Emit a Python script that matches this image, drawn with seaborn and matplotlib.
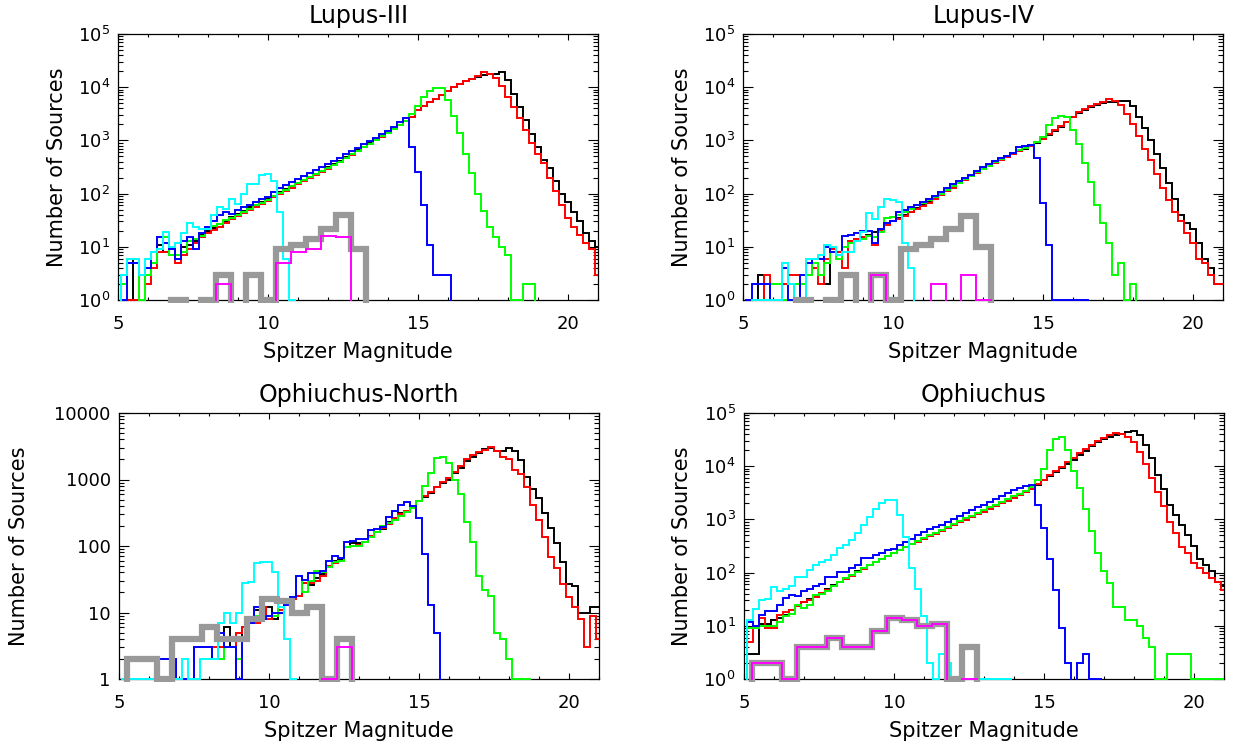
import numpy as np
import matplotlib
matplotlib.use("Agg")
import matplotlib.pyplot as plt
import seaborn as sns
from matplotlib.patches import Rectangle
from matplotlib.ticker import FixedLocator, MultipleLocator, LogLocator, FuncFormatter, NullFormatter

# bin centres (0.2 mag for the data histograms, 0.5 mag for the model histograms)
mag = np.round(5.0 + 0.2 * np.arange(81), 1)
mag_model = 5.0 + 0.5 * np.arange(33)

# ---------------- Lupus-III ----------------
lup3_black = [0, 1, 1, 6, 3, 4, 5, 11, 8, 7,
              7, 10, 11, 13, 17, 20, 23, 27, 31, 36,
              42, 48, 55, 62, 70, 80, 92, 105, 120, 140,
              160, 180, 205, 235, 270, 315, 360, 415, 480, 560,
              650, 760, 880, 1020, 1200, 1400, 1650, 1950, 2300, 2800,
              3800, 4500, 5200, 6000, 7000, 8500, 10000, 11500, 13000, 14500,
              15500, 17000, 17500, 18000, 19000, 13500, 7500, 4200, 2400, 1300,
              750, 420, 300, 170, 100, 70, 45, 30, 18, 13,
              10]
lup3_red = [0, 1, 1, 1, 3, 2, 4, 8, 8, 9,
            5, 7, 9, 12, 15, 18, 21, 24, 28, 33,
            38, 44, 50, 57, 65, 74, 85, 98, 112, 130,
            150, 170, 195, 222, 255, 295, 340, 395, 460, 540,
            630, 740, 860, 1000, 1180, 1380, 1630, 1930, 2300, 2800,
            3800, 4500, 5300, 6100, 7100, 8600, 10000, 11500, 13000, 14500,
            16000, 19500, 18000, 15000, 10500, 6600, 4200, 2600, 1600, 900,
            550, 380, 200, 110, 60, 35, 24, 17, 12, 9,
            3]
lup3_green = [0, 2, 6, 6, 1, 3, 5, 9, 15, 7,
              7, 8, 13, 14, 16, 22, 25, 27, 32, 35,
              40, 46, 52, 60, 68, 77, 90, 103, 118, 137,
              158, 178, 203, 232, 265, 305, 350, 400, 470, 550,
              640, 750, 870, 1010, 1190, 1400, 1650, 1950, 2350, 3100,
              4400, 6600, 8500, 9500, 9500, 5750, 2900, 1350, 555, 240,
              97, 47, 24, 15, 10, 7, 1, 1, 2, 2,
              0, 0, 0, 0, 0, 0, 0, 0, 0, 0,
              0]
lup3_blue = [0, 1, 5, 5, 3, 4, 8, 15, 12, 9,
             6, 13, 15, 9, 18, 24, 30, 40, 45, 42,
             50, 55, 62, 70, 78, 85, 105, 125, 145, 165,
             185, 210, 240, 275, 315, 360, 410, 470, 545, 630,
             730, 850, 980, 1130, 1300, 1500, 1800, 2200, 2600, 740,
             257, 61, 11, 3, 3, 3, 0, 0, 0, 0,
             0, 0, 0, 0, 0, 0, 0, 0, 0, 0,
             0, 0, 0, 0, 0, 0, 0, 0, 0, 0,
             0]
lup3_cyan = [0, 3, 6, 6, 3, 6, 8, 9, 19, 10,
             12, 18, 28, 24, 22, 22, 40, 57, 52, 78,
             63, 100, 150, 150, 225, 230, 170, 45, 6, 1,
             0, 0, 0, 0, 0, 0, 0, 0, 0, 0,
             0, 0, 0, 0, 0, 0, 0, 0, 0, 0,
             0, 0, 0, 0, 0, 0, 0, 0, 0, 0,
             0, 0, 0, 0, 0, 0, 0, 0, 0, 0,
             0, 0, 0, 0, 0, 0, 0, 0, 0, 0,
             0]
lup3_gray = [0, 0, 0, 0, 1, 0, 1, 3, 0, 3, 1, 9, 11, 14, 22, 40, 9,
             0, 0, 0, 0, 0, 0, 0, 0, 0, 0, 0, 0, 0, 0, 0, 0]
lup3_magenta = [0, 0, 0, 0, 0, 0, 0, 2, 0, 0, 0, 5, 8, 9, 16, 15, 0,
                0, 0, 0, 0, 0, 0, 0, 0, 0, 0, 0, 0, 0, 0, 0, 0]

# ---------------- Lupus-IV ----------------
lup4_black = [0, 1, 1, 3, 1, 1, 1, 4, 2, 1,
              2, 5, 6, 6, 2, 9, 8, 10, 13, 14,
              15, 17, 19, 22, 26, 30, 35, 40, 46, 53,
              60, 70, 82, 96, 112, 135, 160, 185, 215, 250,
              290, 330, 380, 430, 490, 560, 630, 700, 790, 900,
              1050, 1250, 1500, 1800, 2200, 2700, 3300, 3800, 4200, 4700,
              5000, 5200, 5300, 5400, 5600, 4500, 2800, 1700, 1000, 560,
              300, 160, 80, 40, 28, 22, 12, 6, 4, 2,
              2]
lup4_red = [0, 1, 1, 1, 3, 1, 1, 2, 3, 3,
            1, 3, 4, 2, 6, 9, 8, 4, 13, 14,
            15, 16, 11, 20, 26, 30, 34, 38, 45, 52,
            58, 67, 80, 94, 110, 130, 155, 180, 210, 245,
            285, 325, 375, 425, 485, 555, 630, 710, 800, 930,
            1080, 1300, 1550, 1850, 2250, 2800, 3400, 3900, 4400, 4900,
            5300, 6000, 5600, 4600, 3200, 2000, 1200, 700, 420, 230,
            130, 75, 45, 30, 18, 12, 6, 5, 3, 2,
            2]
lup4_green = [0, 0, 0, 1, 1, 2, 2, 1, 1, 2,
              2, 3, 5, 3, 5, 8, 6, 10, 12, 13,
              14, 16, 15, 19, 35, 36, 40, 45, 52, 60,
              66, 75, 86, 100, 116, 136, 160, 186, 216, 252,
              292, 335, 385, 440, 500, 570, 650, 730, 820, 950,
              1150, 1950, 2600, 2900, 2700, 1580, 850, 380, 167, 61,
              28, 12, 3, 5, 1, 2, 0, 0, 0, 0,
              0, 0, 0, 0, 0, 0, 0, 0, 0, 0,
              0]
lup4_blue = [0, 1, 2, 2, 2, 1, 1, 4, 1, 1,
             3, 5, 6, 6, 10, 8, 7, 16, 17, 18,
             20, 20, 12, 22, 28, 30, 45, 50, 55, 62,
             70, 80, 92, 108, 125, 150, 172, 198, 228, 265,
             310, 355, 405, 460, 520, 590, 760, 800, 830, 460,
             68, 11, 1, 1, 1, 1, 1, 1, 0, 0,
             0, 0, 0, 0, 0, 0, 0, 0, 0, 0,
             0, 0, 0, 0, 0, 0, 0, 0, 0, 0,
             0]
lup4_cyan = [0, 0, 1, 1, 1, 1, 1, 5, 2, 1,
             1, 6, 6, 7, 11, 10, 7, 8, 8, 13,
             19, 44, 33, 55, 78, 75, 70, 12, 4, 0,
             0, 0, 0, 0, 0, 0, 0, 0, 0, 0,
             0, 0, 0, 0, 0, 0, 0, 0, 0, 0,
             0, 0, 0, 0, 0, 0, 0, 0, 0, 0,
             0, 0, 0, 0, 0, 0, 0, 0, 0, 0,
             0, 0, 0, 0, 0, 0, 0, 0, 0, 0,
             0]
lup4_gray = [0, 0, 0, 0, 1, 0, 1, 3, 0, 3, 1, 9, 11, 14, 22, 38, 10,
             0, 0, 0, 0, 0, 0, 0, 0, 0, 0, 0, 0, 0, 0, 0, 0]
lup4_magenta = [0, 0, 0, 0, 0, 0, 0, 0, 0, 3, 0, 0, 0, 2, 0, 3, 1,
                0, 0, 0, 0, 0, 0, 0, 0, 0, 0, 0, 0, 0, 0, 0, 0]

# ---------------- Ophiuchus-North ----------------
on_black = [0, 1, 1, 1, 1, 1, 1, 2, 2, 2,
            1, 1, 1, 3, 3, 3, 2, 4, 6, 3,
            1, 6, 7, 11, 8, 12, 8, 10, 14, 17,
            18, 28, 26, 33, 38, 50, 60, 62, 95, 110,
            110, 115, 140, 165, 180, 230, 260, 310, 330, 400,
            470, 550, 620, 760, 900, 1000, 1250, 1500, 1900, 2200,
            2500, 2900, 3000, 2700, 2700, 3000, 2700, 1950, 1100, 730,
            520, 310, 185, 110, 58, 27, 25, 10, 10, 12,
            12]
on_red = [0, 1, 1, 1, 1, 1, 1, 1, 1, 1,
          1, 1, 1, 3, 3, 3, 3, 3, 3, 3,
          5, 6, 7, 7, 12, 8, 9, 11, 14, 16,
          18, 28, 28, 30, 36, 50, 55, 60, 95, 100,
          105, 115, 140, 160, 185, 215, 260, 300, 340, 400,
          480, 560, 650, 780, 920, 1050, 1300, 1600, 2000, 2300,
          2600, 2800, 3100, 2700, 2200, 2000, 1400, 1200, 780, 410,
          245, 138, 69, 46, 27, 17, 12, 8, 3, 9,
          4]
on_green = [0, 0, 0, 0, 0, 0, 0, 0, 0, 0,
            0, 0, 0, 1, 2, 2, 2, 2, 3, 3,
            2, 4, 8, 9, 9, 9, 9, 12, 16, 17,
            35, 20, 30, 42, 40, 48, 58, 60, 95, 100,
            100, 115, 135, 160, 200, 220, 250, 280, 330, 370,
            480, 800, 1270, 2100, 2200, 1750, 1000, 600, 230, 116,
            35, 22, 18, 5, 4, 2, 1, 1, 1, 0,
            0, 0, 0, 0, 0, 0, 0, 0, 0, 0,
            0]
on_blue = [0, 1, 1, 1, 1, 1, 1, 2, 2, 2,
           1, 1, 1, 3, 3, 3, 2, 5, 3, 3,
           1, 4, 7, 12, 8, 9, 10, 10, 13, 17,
           35, 31, 39, 39, 42, 60, 71, 65, 116, 120,
           126, 126, 174, 180, 190, 275, 335, 415, 455, 400,
           260, 75, 13, 5, 0, 0, 0, 0, 0, 0,
           0, 0, 0, 0, 0, 0, 0, 0, 0, 0,
           0, 0, 0, 0, 0, 0, 0, 0, 0, 0,
           0]
on_cyan = [0, 1, 1, 1, 1, 1, 1, 0, 0, 0,
           1, 2, 1, 1, 2, 2, 2, 7, 10, 7,
           10, 28, 29, 55, 58, 58, 40, 12, 4, 1,
           0, 0, 0, 0, 0, 0, 0, 0, 0, 0,
           0, 0, 0, 0, 0, 0, 0, 0, 0, 0,
           0, 0, 0, 0, 0, 0, 0, 0, 0, 0,
           0, 0, 0, 0, 0, 0, 0, 0, 0, 0,
           0, 0, 0, 0, 0, 0, 0, 0, 0, 0,
           0]
on_gray = [0, 2, 2, 1, 4, 4, 6, 4, 4, 8, 16, 15, 10, 12, 1, 4, 0,
           0, 0, 0, 0, 0, 0, 0, 0, 0, 0, 0, 0, 0, 0, 0, 0]
on_magenta = [0, 0, 0, 0, 0, 0, 0, 0, 0, 0, 0, 0, 0, 0, 1, 3, 0,
              0, 0, 0, 0, 0, 0, 0, 0, 0, 0, 0, 0, 0, 0, 0, 0]

# ---------------- Ophiuchus ----------------
oph_black = [0, 3, 3, 11, 11, 13, 14, 16, 20, 24,
             28, 32, 36, 42, 50, 58, 68, 78, 90, 105,
             120, 140, 160, 180, 205, 235, 265, 300, 340, 385,
             430, 480, 540, 610, 690, 780, 880, 990, 1110, 1250,
             1400, 1580, 1780, 2000, 2250, 2550, 2900, 3300, 3800, 4500,
             5400, 6500, 7800, 9300, 11000, 13000, 16000, 19500, 23500, 28000,
             32000, 36000, 39000, 41000, 43000, 45000, 38000, 25000, 14000, 6800,
             3800, 1900, 1200, 800, 500, 310, 180, 140, 105, 68,
             55]
oph_red = [0, 5, 10, 14, 9, 9, 16, 18, 20, 24,
           28, 31, 35, 41, 48, 56, 66, 76, 88, 102,
           118, 137, 157, 178, 202, 230, 262, 298, 338, 383,
           430, 480, 540, 610, 690, 780, 880, 990, 1110, 1250,
           1400, 1580, 1780, 2000, 2250, 2550, 2900, 3300, 3800, 4600,
           5600, 6800, 8200, 9800, 11800, 14000, 17500, 21000, 25000, 29500,
           34000, 38000, 42000, 40000, 36000, 28000, 18600, 11200, 6000, 3300,
           1800, 900, 550, 300, 230, 150, 120, 100, 80, 68,
           47]
oph_green = [0, 9, 9, 10, 10, 10, 12, 15, 17, 25,
             22, 25, 38, 40, 45, 55, 68, 78, 90, 104,
             120, 140, 160, 182, 205, 235, 270, 305, 345, 390,
             440, 500, 560, 640, 720, 820, 930, 1050, 1180, 1330,
             1500, 1700, 1900, 2150, 2400, 2700, 3050, 3450, 4000, 5500,
             9000, 20000, 33000, 35000, 20000, 8000, 3900, 1600, 610, 233,
             105, 64, 23, 23, 13, 13, 10, 6, 4, 1,
             1, 3, 3, 3, 3, 1, 1, 1, 1, 1,
             1]
oph_blue = [0, 12, 10, 16, 19, 19, 25, 33, 38, 36,
            45, 49, 55, 60, 84, 84, 104, 104, 120, 138,
            190, 190, 215, 230, 265, 280, 330, 380, 420, 500,
            590, 650, 720, 800, 900, 1000, 1150, 1300, 1480, 1700,
            1900, 2150, 2450, 2750, 3100, 3500, 3900, 4200, 4400, 1840,
            690, 182, 48, 9, 2, 0, 2, 3, 1, 1,
            0, 0, 0, 0, 0, 0, 0, 0, 0, 0,
            0, 0, 0, 0, 0, 0, 0, 0, 0, 0,
            0]
oph_cyan = [0, 13, 21, 30, 32, 53, 45, 50, 55, 84,
            84, 112, 140, 160, 173, 215, 286, 330, 410, 550,
            780, 1120, 1600, 2000, 2300, 2300, 1200, 475, 124, 50,
            15, 2, 1, 3, 2, 1, 1, 1, 1, 1,
            1, 1, 1, 1, 1, 0, 0, 0, 0, 0,
            0, 0, 0, 0, 0, 0, 0, 0, 0, 0,
            0, 0, 0, 0, 0, 0, 0, 0, 0, 0,
            0, 0, 0, 0, 0, 0, 0, 0, 0, 0,
            0]
oph_gray = [0, 2, 2, 1, 4, 4, 6, 4, 4, 8, 14, 13, 10, 11, 1, 4, 0,
            0, 0, 0, 0, 0, 0, 0, 0, 0, 0, 0, 0, 0, 0, 0, 0]
oph_magenta = [0, 2, 2, 1, 4, 4, 6, 4, 4, 8, 14, 13, 10, 11, 0, 1, 0,
               0, 0, 0, 0, 0, 0, 0, 0, 0, 0, 0, 0, 0, 0, 0, 0]

titles = ["Lupus-III", "Lupus-IV", "Ophiuchus-North", "Ophiuchus"]
ylims = [(1, 1e5), (1, 1e5), (1, 1e4), (1, 1e5)]

# ---------------- styling ----------------
sns.set_theme(style="ticks")
plt.rcParams["font.family"] = ["DejaVu Sans"]
plt.rcParams["axes.linewidth"] = 0.9
for key in ("text.color", "axes.labelcolor", "xtick.color", "ytick.color", "axes.edgecolor"):
    plt.rcParams[key] = "black"

FIG_W, FIG_H = 1235, 746
AX_W, AX_H = 480, 266
positions = [(118.3, 34), (743.3, 34), (119, 413), (744, 413)]

fig = plt.figure(figsize=(FIG_W / 100, FIG_H / 100), dpi=100)

panel_data = [
    (lup3_black, lup3_red, lup3_green, lup3_blue, lup3_cyan, lup3_gray, lup3_magenta),
    (lup4_black, lup4_red, lup4_green, lup4_blue, lup4_cyan, lup4_gray, lup4_magenta),
    (on_black, on_red, on_green, on_blue, on_cyan, on_gray, on_magenta),
    (oph_black, oph_red, oph_green, oph_blue, oph_cyan, oph_gray, oph_magenta),
]

styles = [  # colour, linewidth, zorder, which x grid
    ("#000000", 1.4, 3.0, "d"),
    ("#ff0000", 1.4, 3.1, "d"),
    ("#00ff00", 1.4, 3.2, "d"),
    ("#0000ff", 1.4, 3.3, "d"),
    ("#00ffff", 1.4, 3.4, "d"),
    ("#999999", 4.5, 3.5, "m"),
    ("#ff00ff", 1.4, 3.6, "m"),
]


def draw(ax, x, y, color, lw, z):
    sns.lineplot(x=x, y=np.asarray(y, dtype=float), ax=ax, color=color, linewidth=lw,
                 drawstyle="steps-mid", estimator=None, sort=False, legend=False,
                 zorder=z, solid_joinstyle="miter", solid_capstyle="butt")
    line = ax.lines[-1]
    half = lw * 100 / 72 / 2
    ex, ey = half / AX_W, half / AX_H
    clip = Rectangle((-ex, -ey), 1 + 2 * ex, 1 + 2 * ey, transform=ax.transAxes,
                     facecolor="none", edgecolor="none")
    line.set_clip_path(clip)


for k in range(4):
    left, top = positions[k]
    ax = fig.add_axes([left / FIG_W, (FIG_H - top - AX_H) / FIG_H, AX_W / FIG_W, AX_H / FIG_H])
    for vals, (col, lw, z, grid) in zip(panel_data[k], styles):
        xs = mag if grid == "d" else mag_model
        draw(ax, xs, vals, col, lw, z)

    ax.set_yscale("log")
    ax.set_xlim(5, 21)
    ax.set_ylim(*ylims[k])

    ax.xaxis.set_major_locator(FixedLocator([5, 10, 15, 20]))
    ax.xaxis.set_minor_locator(MultipleLocator(1))
    ax.yaxis.set_major_locator(LogLocator(base=10, numticks=12))
    ax.yaxis.set_minor_locator(LogLocator(base=10, subs=np.arange(2, 10), numticks=60))
    ax.yaxis.set_minor_formatter(NullFormatter())
    if k == 2:
        ax.yaxis.set_major_formatter(FuncFormatter(lambda v, p: f"{v:.0f}"))

    ax.tick_params(which="both", direction="in", top=True, right=True, color="black", width=0.8)
    ax.tick_params(axis="x", which="major", length=4, pad=11, labelsize=13)
    ax.tick_params(axis="x", which="minor", length=2)
    ax.tick_params(axis="y", which="major", length=7, pad=6, labelsize=13)
    ax.tick_params(axis="y", which="minor", length=3.5)
    for sp in ax.spines.values():
        sp.set_visible(True)
        sp.set_color("black")
        sp.set_linewidth(0.9)
        sp.set_zorder(2.5)

    ax.set_title(titles[k], fontsize=17, pad=8)
    ax.set_xlabel("Spitzer Magnitude", fontsize=15, labelpad=6)
    ax.set_ylabel("Number of Sources", fontsize=15, labelpad=(18 if k == 2 else 8))
    ax.grid(False)

fig.savefig("out.png", dpi=100)
